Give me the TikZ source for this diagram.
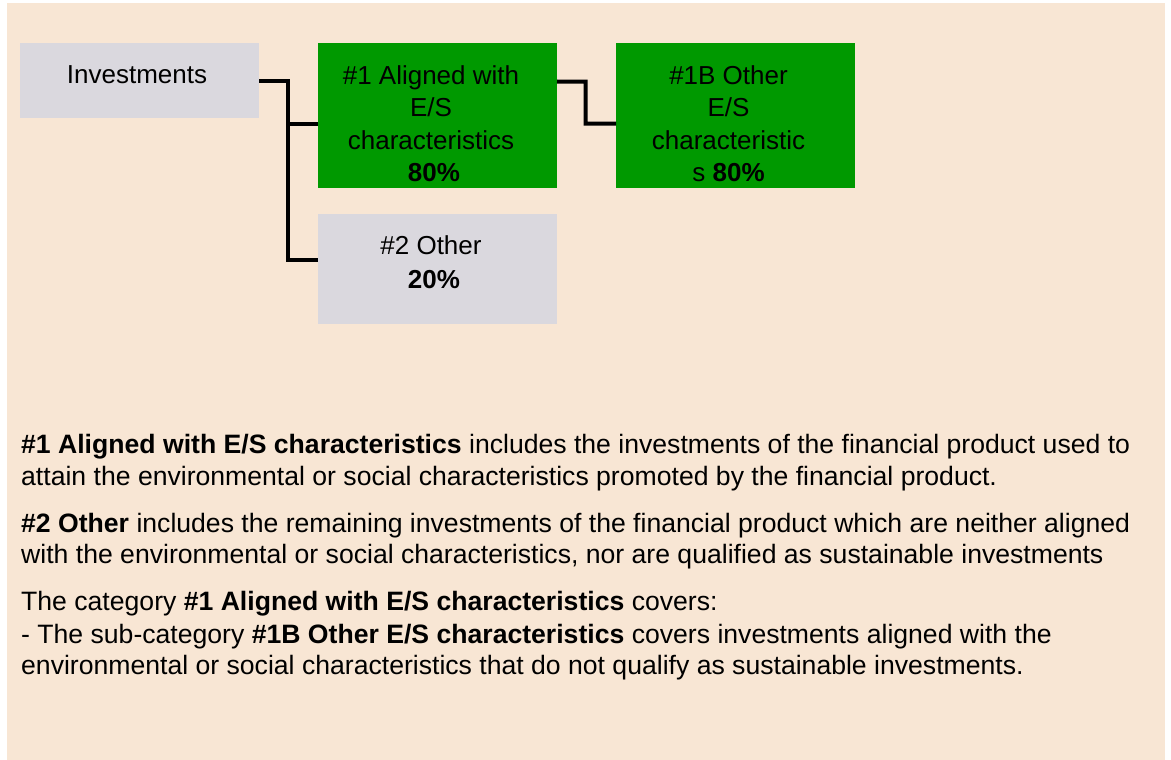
\documentclass[tikz,border=0pt]{standalone}
\usepackage{fontspec}
\setmainfont{Liberation Sans}
\definecolor{bg}{RGB}{248,230,212}
\definecolor{grn}{RGB}{0,153,0}
\definecolor{gry}{RGB}{218,216,222}
\begin{document}
\begin{tikzpicture}[x=1pt,y=-1pt,
  box/.style={draw=none, inner sep=0pt, outer sep=0pt, anchor=north west},
  conn/.style={line width=4pt, black},
  bt/.style={anchor=base, inner sep=0pt, font=\fontsize{26}{31}\selectfont},
  para/.style={anchor=base west, inner sep=0pt, font=\fontsize{26.6}{32}\selectfont}]
\fill[white] (0,0) rectangle (1171,760);
\fill[bg] (7,3) rectangle (1165,760);
\useasboundingbox (0,0) rectangle (1171,760);
% boxes
\node[box, fill=gry, minimum width=239pt, minimum height=75pt] (inv) at (20,43) {};
\node[box, fill=grn, minimum width=239pt, minimum height=145pt] (g1) at (318,43) {};
\node[box, fill=gry, minimum width=239pt, minimum height=110pt] (o2) at (318,214) {};
\node[box, fill=grn, minimum width=239pt, minimum height=145pt] (g1b) at (616,43) {};
% connectors
\coordinate (j1) at (288,81);
\coordinate (invout) at (inv.east |- j1);
\coordinate (g1in) at ([yshift=-8.5pt]g1.west);
\coordinate (o2in) at ([yshift=9pt]o2.west);
\draw[conn] (invout) -- (j1) |- (o2in);
\draw[conn] (g1in) -- (g1in -| j1);
\coordinate (g1out) at ([yshift=34pt]g1.east);
\coordinate (j2) at (585.5,81.7);
\coordinate (g1bin) at ([yshift=-8pt]g1b.west);
\draw[conn] (g1out) -- (j2) |- (g1bin);
% box texts
\node[bt] (ti) at (137,83.5) {Investments};
\node[bt] (ta1) at (431,84.3) {\#1 Aligned with};
\node[bt] (ta2) at (431,116.7) {E/S};
\node[bt] (ta3) at (431,149) {characteristics};
\node[bt] (ta4) at (434,181.7) {\textbf{80\%}};
\node[bt] (tb1) at (431,254) {\#2 Other};
\node[bt] (tb2) at (434,288) {\textbf{20\%}};
\node[bt] (tc1) at (728.5,84.3) {\#1B Other};
\node[bt] (tc2) at (728.5,116.7) {E/S};
\node[bt] (tc3) at (728.5,149) {characteristic};
\node[bt] (tc4) at (728.5,181.7) {s \textbf{80\%}};
% explanatory text
\node[para] (p1) at (21,453) {\textbf{\#1 Aligned with E/S characteristics} includes the investments of the financial product used to};
\node[para] (p2) at (21,485) {attain the environmental or social characteristics promoted by the financial product.};
\node[para] (p3) at (21,532) {\textbf{\#2 Other} includes the remaining investments of the financial product which are neither aligned};
\node[para] (p4) at (21,563) {with the environmental or social characteristics, nor are qualified as sustainable investments};
\node[para] (p5) at (21,610) {The category \textbf{\#1 Aligned with E/S characteristics} covers:};
\node[para] (p6) at (21,643) {- The sub-category \textbf{\#1B Other E/S characteristics} covers investments aligned with the};
\node[para] (p7) at (21,674) {environmental or social characteristics that do not qualify as sustainable investments.};
\end{tikzpicture}
\end{document}
